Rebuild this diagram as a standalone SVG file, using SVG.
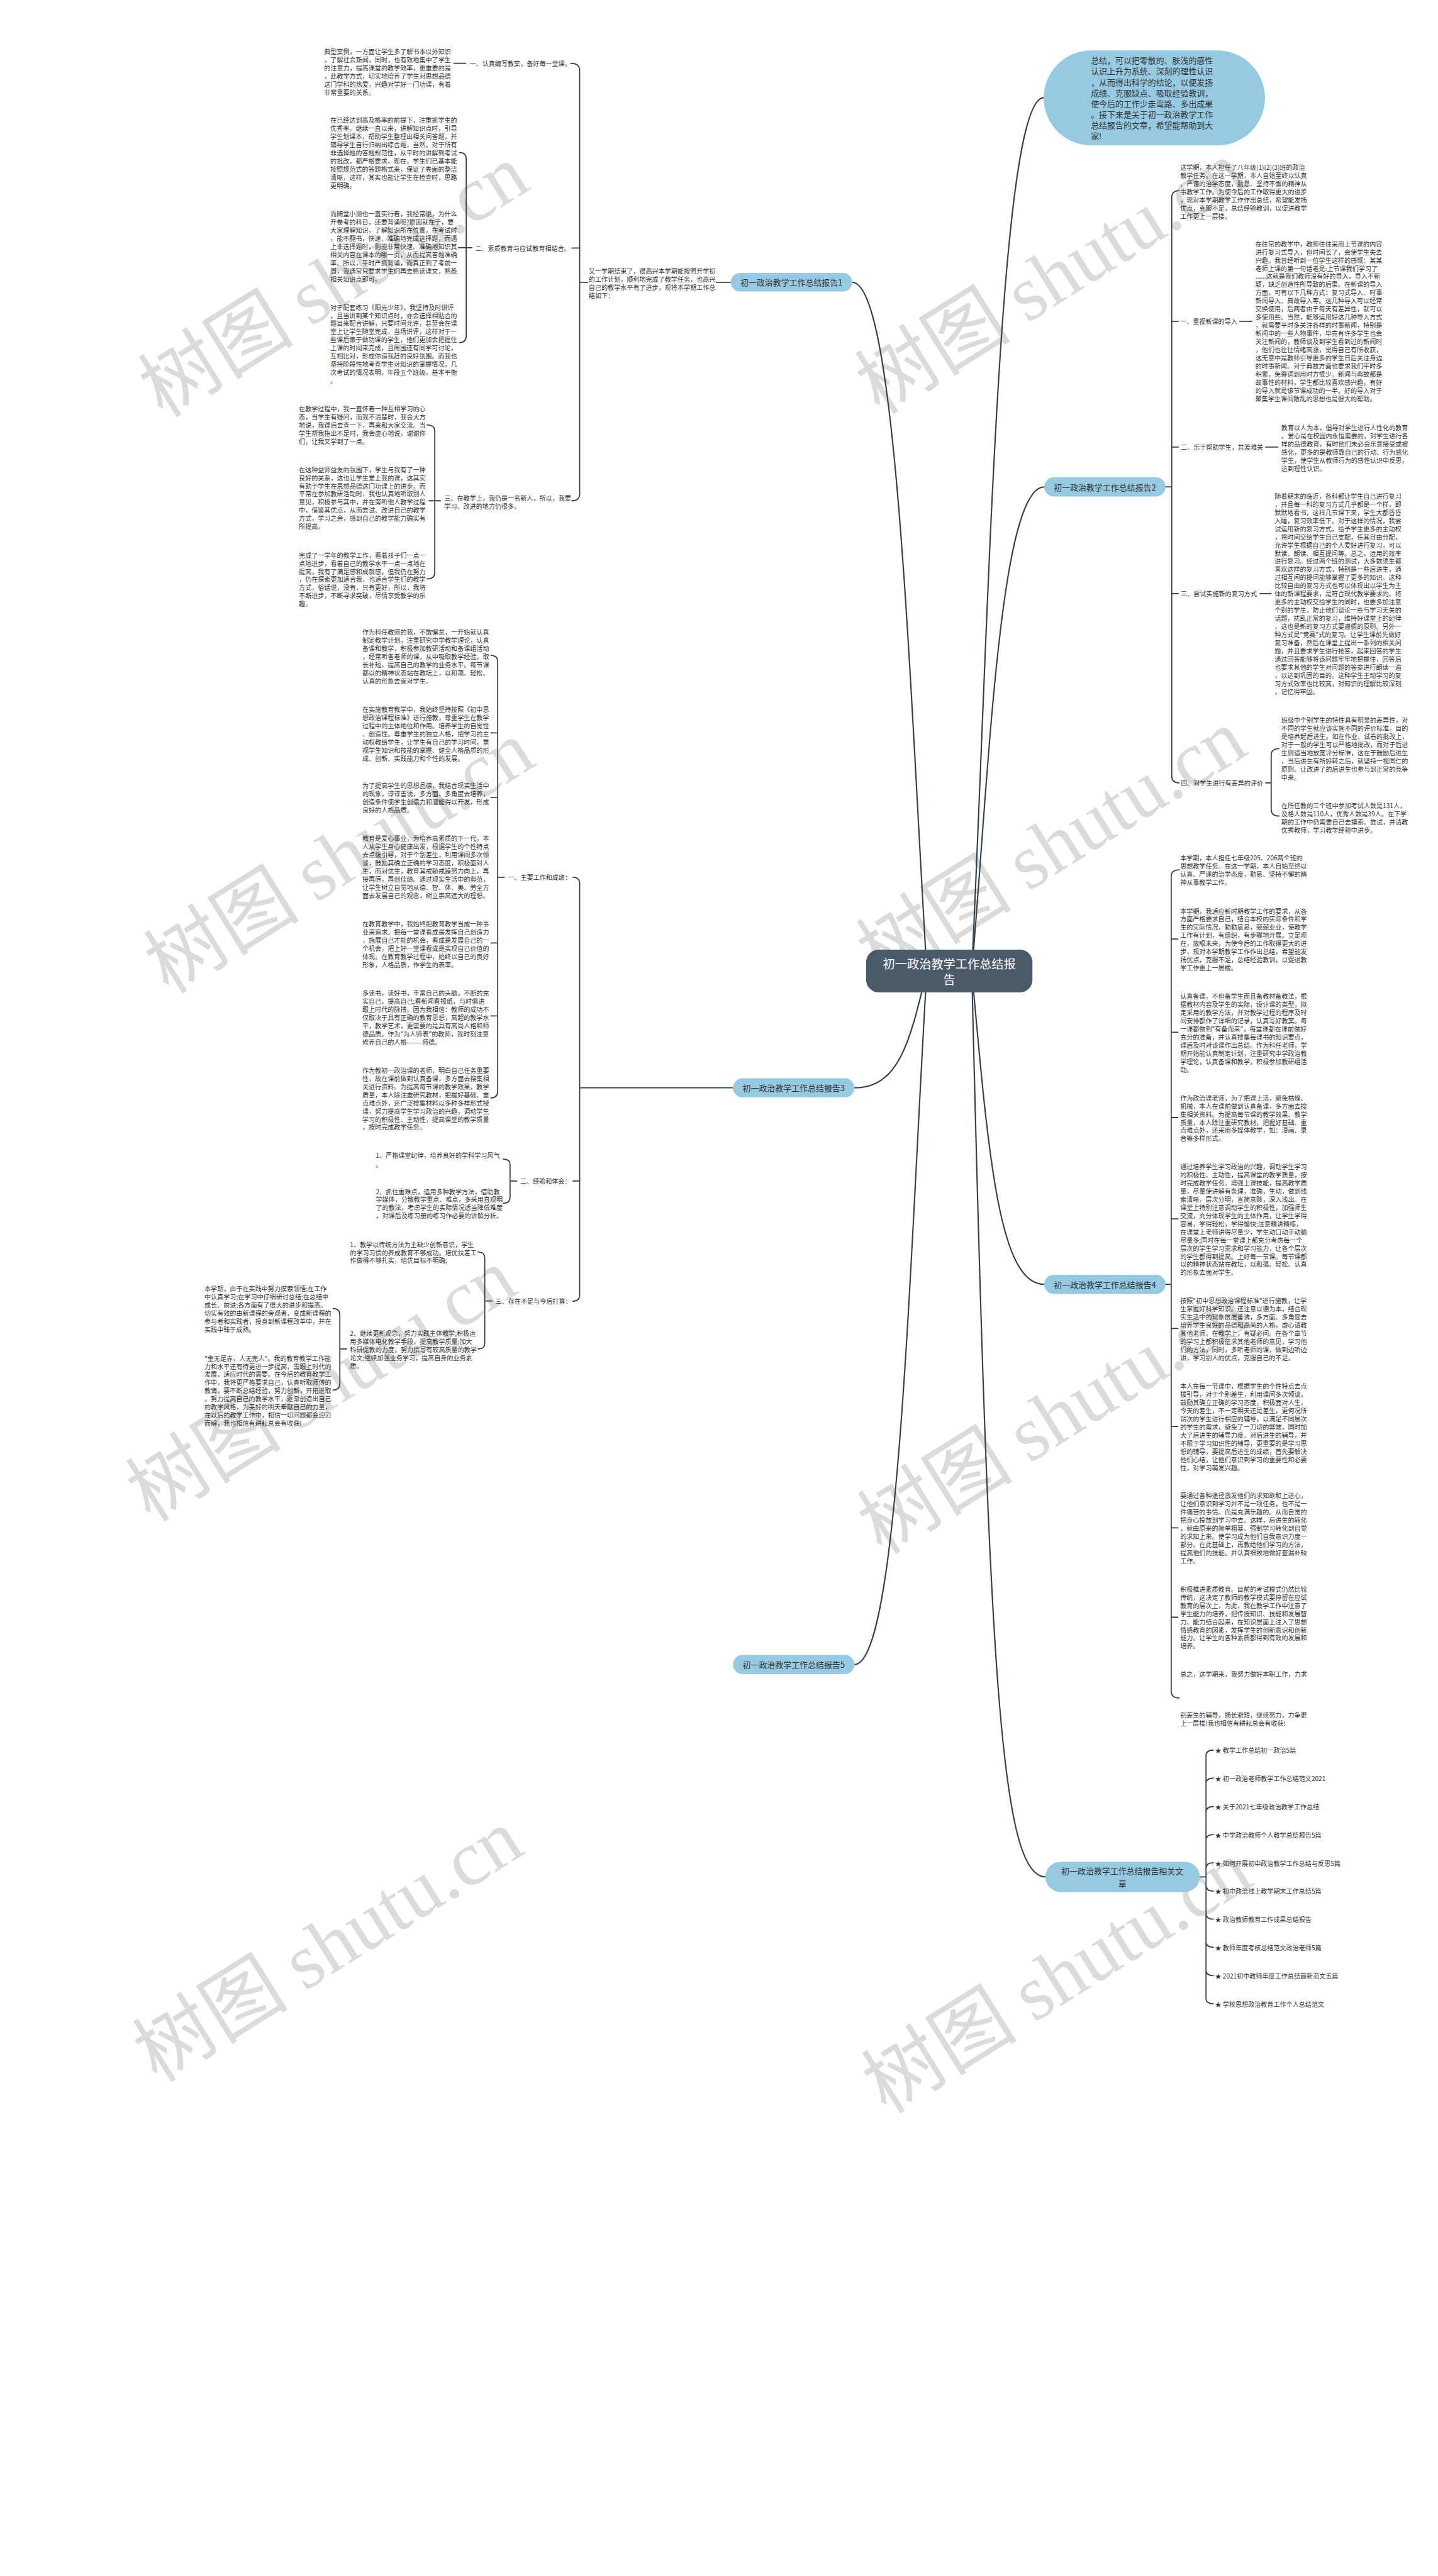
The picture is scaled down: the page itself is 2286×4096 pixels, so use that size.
<svg xmlns="http://www.w3.org/2000/svg" width="2286" height="4096" viewBox="0 0 2286 4096">
<style>
.b{font-family:"Noto Sans CJK SC","Noto Sans",sans-serif;font-size:11.3px;fill:#333;dominant-baseline:central}
.p{font-family:"Noto Sans CJK SC","Noto Sans",sans-serif;font-size:14.5px;fill:#333;dominant-baseline:central;text-anchor:middle}
.t{font-family:"Noto Sans CJK SC","Noto Sans",sans-serif;font-size:14.5px;fill:#333;dominant-baseline:central}
.c{font-family:"Noto Sans CJK SC","Noto Sans",sans-serif;font-size:21.5px;fill:#fff;dominant-baseline:central;text-anchor:middle}
.k{fill:none;stroke:#34414d;stroke-width:2;stroke-linecap:round}
.m{fill:none;stroke:#34414d;stroke-width:2.4}
.pill{fill:#96c9e2}
.w{font-family:"Noto Sans CJK SC",sans-serif;font-size:139px;fill:#cfcfcf;fill-opacity:0.75}
</style>
<rect width="2286" height="4096" fill="#fff"/>
<g transform="scale(0.89297)">
<g id="watermarks">
<text class="w" transform="translate(290,746) rotate(-32)">树图 <tspan font-family="Liberation Serif">shutu.cn</tspan></text>
<text class="w" transform="translate(1566,740) rotate(-32)">树图 <tspan font-family="Liberation Serif">shutu.cn</tspan></text>
<text class="w" transform="translate(300,1772) rotate(-32)">树图 <tspan font-family="Liberation Serif">shutu.cn</tspan></text>
<text class="w" transform="translate(1568,1752) rotate(-32)">树图 <tspan font-family="Liberation Serif">shutu.cn</tspan></text>
<text class="w" transform="translate(268,2712) rotate(-32)">树图 <tspan font-family="Liberation Serif">shutu.cn</tspan></text>
<text class="w" transform="translate(1570,2770) rotate(-32)">树图 <tspan font-family="Liberation Serif">shutu.cn</tspan></text>
<text class="w" transform="translate(280,3710) rotate(-32)">树图 <tspan font-family="Liberation Serif">shutu.cn</tspan></text>
<text class="w" transform="translate(1578,3766) rotate(-32)">树图 <tspan font-family="Liberation Serif">shutu.cn</tspan></text>
</g>
<g id="connectors">
<path class="m" d="M1517 502.5 C1597 502.5 1620 1240 1650 1729"/>
<path class="m" d="M1521 1937 C1601 1937 1620 1854 1650 1729"/>
<path class="m" d="M1521 2964 C1601 2964 1620 2223 1650 1729"/>
<path class="m" d="M1858 174 C1778 174 1760 1107 1730 1729"/>
<path class="m" d="M1859 867 C1779 867 1760 1384 1730 1729"/>
<path class="m" d="M1859 2287 C1779 2287 1760 2064 1730 1729"/>
<path class="m" d="M1861 3342 C1781 3342 1760 2974 1730 1729"/>
<path class="k" d="M1275 502.7H1301"/>
<path class="k" d="M1016 112.7Q1032 112.7 1032 126V879Q1032 891.7 1018 891.7M1018 441.7H1032M1032 502.7H1046"/>
<path class="k" d="M808 112.7H829"/>
<path class="k" d="M818 271.7Q830 271.7 830 283V598Q830 610 818 610M816 441H840"/>
<path class="k" d="M760 756.7Q774 756.7 774 768V1019Q774 1030.7 760 1030.7M764 891.7H784"/>
<path class="k" d="M2075 867H2086M2099 339.4Q2086 339.4 2086 352V1382Q2086 1394 2099 1394M2086 572H2098M2086 796H2098M2086 1057H2098"/>
<path class="k" d="M2207 572H2229M2253 796H2275M2243 1057H2263"/>
<path class="k" d="M2253 1394H2263M2277 1333Q2263 1333 2263 1345V1441Q2263 1453 2277 1453"/>
<path class="k" d="M2075 2287H2085M2099 1549Q2085 1549 2085 1561V3011Q2085 3023.5 2099 3023.5M2085 1672H2097M2085 1838H2097M2085 1990H2097M2085 2170.5H2097M2085 2365.5H2097M2085 2540H2097M2085 2720.6H2097M2085 2879.7H2097"/>
<path class="k" d="M2136 3342H2147M2147 3342V3126Q2147 3116.3 2160 3116.3M2147 3342V3176Q2147 3166.3 2160 3166.3M2147 3342V3227Q2147 3216.8 2160 3216.8M2147 3342V3277Q2147 3266.8 2160 3266.8M2147 3342V3327Q2147 3316.8 2160 3316.8M2147 3342V3357Q2147 3367.3 2160 3367.3M2147 3342V3407Q2147 3417.3 2160 3417.3M2147 3342V3457Q2147 3467.3 2160 3467.3M2147 3342V3508Q2147 3517.9 2160 3517.9M2147 3342V3558Q2147 3567.9 2160 3567.9"/>
<path class="k" d="M1020 1562Q1032 1562 1032 1574V2305Q1032 2317 1020 2317M1020 2103H1032M1032 1937H1305"/>
<path class="k" d="M874 1167Q886 1167 886 1179V1943Q886 1955 874 1955M874 1305H886M874 1419.8H886M874 1679H886M874 1809H886M886 1562H898"/>
<path class="k" d="M896 2064Q908 2064 908 2074V2132Q908 2142.7 896 2142.7M908 2103H920"/>
<path class="k" d="M851 2229.3Q863 2229.3 863 2240V2392Q863 2402 851 2402M863 2316.5H876"/>
<path class="k" d="M593 2330Q605 2330 605 2342V2463Q605 2475 593 2475M605 2402H617"/>
</g>
<g id="center">
<rect x="1542" y="1691" width="296" height="76" rx="22" fill="#4b5a69"/>
<text class="c" x="1690" y="1716">初一政治教学工作总结报</text>
<text class="c" x="1690" y="1744">告</text>
</g>
<g id="topnode">
<rect x="1858" y="90" width="394" height="169" rx="84.5" class="pill"/>
<text class="t" x="1942" y="106.7"><tspan x="1942">总结，可以把零散的、肤浅的感性</tspan><tspan x="1942" dy="19.2">认识上升为系统、深刻的理性认识</tspan><tspan x="1942" dy="19.2">，从而得出科学的结论，以便发扬</tspan><tspan x="1942" dy="19.2">成绩、克服缺点、吸取经验教训，</tspan><tspan x="1942" dy="19.2">使今后的工作少走弯路、多出成果</tspan><tspan x="1942" dy="19.2">。接下来是关于初一政治教学工作</tspan><tspan x="1942" dy="19.2">总结报告的文章，希望能帮助到大</tspan><tspan x="1942" dy="19.2">家!</tspan></text>
</g>
<g id="branch1">
<rect x="1301" y="486" width="216" height="33" rx="16.5" class="pill"/>
<text class="p" x="1409" y="502.5">初一政治教学工作总结报告1</text>
<text class="b" x="1048" y="481.7"><tspan x="1048">又一学期结束了，很高兴本学期能按照开学初</tspan><tspan x="1048" dy="14.5">的工作计划，顺利地完成了教学任务，也高兴</tspan><tspan x="1048" dy="14.5">自己的教学水平有了进步，现将本学期工作总</tspan><tspan x="1048" dy="14.5">结如下：</tspan></text>
<text class="b" x="836" y="112.7">一、认真编写教案，备好每一堂课。</text>
<text class="b" x="846" y="441.7">二、素质教育与应试教育相结合。</text>
<text class="b" x="791" y="886"><tspan x="791">三、在教学上，我仍是一名新人，所以，我要</tspan><tspan x="791" dy="14.5">学习、改进的地方仍很多。</tspan></text>
<text class="b" x="577" y="91"><tspan x="577">典型案例，一方面让学生多了解书本以外知识</tspan><tspan x="577" dy="14.5">，了解社会新闻，同时，也有效地集中了学生</tspan><tspan x="577" dy="14.5">的注意力，提高课堂的教学效率，更重要的是</tspan><tspan x="577" dy="14.5">，此教学方式，切实地培养了学生对思想品德</tspan><tspan x="577" dy="14.5">这门学科的热爱，兴趣对学好一门功课，有着</tspan><tspan x="577" dy="14.5">非常重要的关系。</tspan></text>
<text class="b" x="588" y="213.3"><tspan x="588">在已经达到高及格率的前提下，注重抓学生的</tspan><tspan x="588" dy="14.5">优秀率。继续一直以来，讲解知识点时，引导</tspan><tspan x="588" dy="14.5">学生划课本，帮助学生整理出相关问答题，并</tspan><tspan x="588" dy="14.5">辅导学生自行归纳出综合题，当然，对于所有</tspan><tspan x="588" dy="14.5">非选择题的答题规范性，从平时的讲解到考试</tspan><tspan x="588" dy="14.5">的批改，都严格要求，现在，学生们已基本能</tspan><tspan x="588" dy="14.5">按照规范式的答题格式来，保证了卷面的整洁</tspan><tspan x="588" dy="14.5">清晰，这样，其实也能让学生在检查时，思路</tspan><tspan x="588" dy="14.5">更明确。</tspan></text>
<text class="b" x="588" y="380"><tspan x="588">而随堂小测也一直实行着，我经常说，为什么</tspan><tspan x="588" dy="14.5">开卷考的科目，还要背诵呢?原因就在于，要</tspan><tspan x="588" dy="14.5">大家理解知识，了解知识所在位置，在考试时</tspan><tspan x="588" dy="14.5">，能不翻书，快速、准确地完成选择题，而遇</tspan><tspan x="588" dy="14.5">上非选择题时，则能非常快速、准确地知识其</tspan><tspan x="588" dy="14.5">相关内容在课本的哪一页，从而提高答题准确</tspan><tspan x="588" dy="14.5">率。所以，平时严抓背诵，而真正到了考前一</tspan><tspan x="588" dy="14.5">周，我通常只要求学生们再去熟读课文，熟悉</tspan><tspan x="588" dy="14.5">相关知识点即可。</tspan></text>
<text class="b" x="588" y="546"><tspan x="588">对于配套练习《阳光少年》，我坚持及时讲评</tspan><tspan x="588" dy="14.5">，且当讲到某个知识点时，亦会选择相贴合的</tspan><tspan x="588" dy="14.5">题目来配合讲解，只要时间允许，甚至会在课</tspan><tspan x="588" dy="14.5">堂上让学生随堂完成，当场讲评，这样对于一</tspan><tspan x="588" dy="14.5">些课后懒于做功课的学生，他们更加会把握住</tspan><tspan x="588" dy="14.5">上课的时间来完成，且周围还有同学可讨论，</tspan><tspan x="588" dy="14.5">互相比对，形成你追我赶的良好氛围。而我也</tspan><tspan x="588" dy="14.5">坚持阶段性地考查学生对知识的掌握情况，几</tspan><tspan x="588" dy="14.5">次考试的情况表明，年段五个班级，基本平衡</tspan><tspan x="588" dy="14.5">。</tspan></text>
<text class="b" x="532" y="726.7"><tspan x="532">在教学过程中，我一直怀着一种互相学习的心</tspan><tspan x="532" dy="14.5">态，当学生有疑问，而我不清楚时，我会大方</tspan><tspan x="532" dy="14.5">地说，我课后去查一下，再来和大家交流。当</tspan><tspan x="532" dy="14.5">学生帮我指出不足时，我会虚心地说，谢谢你</tspan><tspan x="532" dy="14.5">们，让我又学到了一点。</tspan></text>
<text class="b" x="532" y="835"><tspan x="532">在这种益师益友的氛围下，学生与我有了一种</tspan><tspan x="532" dy="14.5">良好的关系，这也让学生爱上我的课，这其实</tspan><tspan x="532" dy="14.5">有助于学生在思想品德这门功课上的进步。而</tspan><tspan x="532" dy="14.5">平常在参加教研活动时，我也认真地听取别人</tspan><tspan x="532" dy="14.5">意见，积极参与其中，并在旁听他人教学过程</tspan><tspan x="532" dy="14.5">中，借鉴其优点，从而尝试、改进自己的教学</tspan><tspan x="532" dy="14.5">方式，学习之余，感到自己的教学能力确实有</tspan><tspan x="532" dy="14.5">所提高。</tspan></text>
<text class="b" x="532" y="987.3"><tspan x="532">完成了一学年的教学工作，看着孩子们一点一</tspan><tspan x="532" dy="14.5">点地进步，看着自己的教学水平一点一点地在</tspan><tspan x="532" dy="14.5">提高，我有了满足感和成就感，但我仍在努力</tspan><tspan x="532" dy="14.5">，仍在探索更加适合我，也适合学生们的教学</tspan><tspan x="532" dy="14.5">方式，俗话说，没有，只有更好，所以，我将</tspan><tspan x="532" dy="14.5">不断进步，不断寻求突破，尽情享受教学的乐</tspan><tspan x="532" dy="14.5">趣。</tspan></text>
</g>
<g id="branch2">
<rect x="1859" y="850" width="216" height="34" rx="17" class="pill"/>
<text class="p" x="1967" y="867">初一政治教学工作总结报告2</text>
<text class="b" x="2101" y="297.3"><tspan x="2101">这学期，本人担任了八年级(1)(2)(3)班的政治</tspan><tspan x="2101" dy="14.5">教学任务。在这一学期，本人自始至终以认真</tspan><tspan x="2101" dy="14.5">、严谨的治学态度，勤恳、坚持不懈的精神从</tspan><tspan x="2101" dy="14.5">事教学工作。为使今后的工作取得更大的进步</tspan><tspan x="2101" dy="14.5">，现对本学期教学工作作出总结，希望能发扬</tspan><tspan x="2101" dy="14.5">优点，克服不足，总结经验教训，以促进教学</tspan><tspan x="2101" dy="14.5">工作更上一层楼。</tspan></text>
<text class="b" x="2101" y="572">一、重视新课的导入</text>
<text class="b" x="2235" y="433"><tspan x="2235">在往常的教学中，教师往往采用上节课的内容</tspan><tspan x="2235" dy="14.5">进行复习式导入，但时间长了，会使学生失去</tspan><tspan x="2235" dy="14.5">兴趣。我曾经听到一位学生这样的感慨：某某</tspan><tspan x="2235" dy="14.5">老师上课的第一句话老是:上节课我们学习了</tspan><tspan x="2235" dy="14.5">......这就是我们教师没有好的导入，导入不新</tspan><tspan x="2235" dy="14.5">颖，缺乏创造性所导致的后果。在新课的导入</tspan><tspan x="2235" dy="14.5">方面，可有以下几种方式：复习式导入、时事</tspan><tspan x="2235" dy="14.5">新闻导入、典故导入等。这几种导入可以经常</tspan><tspan x="2235" dy="14.5">交换使用，后两者由于每天有差异性，就可以</tspan><tspan x="2235" dy="14.5">多使用些。当然，能够运用好这几种导入方式</tspan><tspan x="2235" dy="14.5">，就需要平时多关注各样的时事新闻，特别是</tspan><tspan x="2235" dy="14.5">新闻中的一些人物事件，毕竟有许多学生也会</tspan><tspan x="2235" dy="14.5">关注新闻的，教师谈及到学生看到过的新闻时</tspan><tspan x="2235" dy="14.5">，他们也往往情绪高涨，觉得自己有所收获，</tspan><tspan x="2235" dy="14.5">这无意中是教师引导更多的学生日后关注身边</tspan><tspan x="2235" dy="14.5">的时事新闻。对于典故方面也要求我们平时多</tspan><tspan x="2235" dy="14.5">积累，免得词到用时方恨少。新闻与典故都是</tspan><tspan x="2235" dy="14.5">故事性的材料，学生都比较喜欢感兴趣，有好</tspan><tspan x="2235" dy="14.5">的导入就是该节课成功的一半。好的导入对于</tspan><tspan x="2235" dy="14.5">聚集学生课间散乱的思想也是很大的帮助。</tspan></text>
<text class="b" x="2102" y="796">二、乐于帮助学生，共渡难关</text>
<text class="b" x="2281" y="760.5"><tspan x="2281">教育以人为本，倡导对学生进行人性化的教育</tspan><tspan x="2281" dy="14.5">。爱心是在校园内永恒需要的。对学生进行各</tspan><tspan x="2281" dy="14.5">样的品德教育，有时他们未必会乐意接受或被</tspan><tspan x="2281" dy="14.5">感化，更多的是教师靠自己的行动、行为感化</tspan><tspan x="2281" dy="14.5">学生，使学生从教师行为的感性认识中反思，</tspan><tspan x="2281" dy="14.5">达到理性认识。</tspan></text>
<text class="b" x="2102" y="1057">三、尝试实施新的复习方式</text>
<text class="b" x="2269" y="882.3"><tspan x="2269">随着期末的临近，各科都让学生自己进行复习</tspan><tspan x="2269" dy="14.5">，并且每一科的复习方式几乎都是一个样，即</tspan><tspan x="2269" dy="14.5">默默地看书，这样几节课下来，学生大都昏昏</tspan><tspan x="2269" dy="14.5">入睡，复习效率低下。对于这样的情况，我尝</tspan><tspan x="2269" dy="14.5">试运用新的复习方式，给予学生更多的主动权</tspan><tspan x="2269" dy="14.5">，将时间交给学生自己支配，任其自由分配，</tspan><tspan x="2269" dy="14.5">允许学生根据自己的个人爱好进行复习，可以</tspan><tspan x="2269" dy="14.5">默读、朗读、相互提问等。总之，运用的效率</tspan><tspan x="2269" dy="14.5">进行复习。经过两个班的测试，大多数须生都</tspan><tspan x="2269" dy="14.5">喜欢这样的复习方式，特别是一些后进生，通</tspan><tspan x="2269" dy="14.5">过相互间的提问能够掌握了更多的知识。这种</tspan><tspan x="2269" dy="14.5">比较自由的复习方式也可以体现出以学生为主</tspan><tspan x="2269" dy="14.5">体的新课程要求，是符合现代教学要求的。将</tspan><tspan x="2269" dy="14.5">更多的主动权交给学生的同时，也要多加注意</tspan><tspan x="2269" dy="14.5">个别的学生，防止他们谈论一些与学习无关的</tspan><tspan x="2269" dy="14.5">话题，扰乱正常的复习，维持好课堂上的纪律</tspan><tspan x="2269" dy="14.5">，这也是新的复习方式要遵循的原则。另外一</tspan><tspan x="2269" dy="14.5">种方式是"竞赛"式的复习。让学生课前先做好</tspan><tspan x="2269" dy="14.5">复习准备，然后在课堂上提出一系列的相关问</tspan><tspan x="2269" dy="14.5">题，并且要求学生进行抢答，起来回答的学生</tspan><tspan x="2269" dy="14.5">通过回答能够将该问题牢牢地把握住，回答后</tspan><tspan x="2269" dy="14.5">也要求其他的学生对问题的答案进行朗读一遍</tspan><tspan x="2269" dy="14.5">，以达到巩固的目的。这种学生主动学习的复</tspan><tspan x="2269" dy="14.5">习方式效率也比较高，对知识的理解比较深刻</tspan><tspan x="2269" dy="14.5">，记忆得牢固。</tspan></text>
<text class="b" x="2102" y="1394">四、对学生进行有差异的评价</text>
<text class="b" x="2281" y="1281.2"><tspan x="2281">班级中个别学生的特性具有明显的差异性，对</tspan><tspan x="2281" dy="14.5">不同的学生就应该实施不同的评价标准，目的</tspan><tspan x="2281" dy="14.5">是培养起后进生。如在作业、试卷的批改上，</tspan><tspan x="2281" dy="14.5">对于一般的学生可以严格地批改，而对于后进</tspan><tspan x="2281" dy="14.5">生则适当地放宽评分标准，这在于鼓励后进生</tspan><tspan x="2281" dy="14.5">，当后进生有所好转之后，就坚持一视同仁的</tspan><tspan x="2281" dy="14.5">原则。让改进了的后进生也参与到正常的竞争</tspan><tspan x="2281" dy="14.5">中来。</tspan></text>
<text class="b" x="2281" y="1433.5"><tspan x="2281">在所任教的三个班中参加考试人数是131人，</tspan><tspan x="2281" dy="14.5">及格人数是110人，优秀人数是39人。在下学</tspan><tspan x="2281" dy="14.5">期的工作中仍需要自己去摸索、尝试，并请教</tspan><tspan x="2281" dy="14.5">优秀教师，学习教学经验中进步。</tspan></text>
</g>
<g id="branch4">
<rect x="1859" y="2270" width="216" height="34" rx="17" class="pill"/>
<text class="p" x="1967" y="2287">初一政治教学工作总结报告4</text>
<text class="b" x="2101" y="1526.9"><tspan x="2101">本学期，本人担任七年级205、206两个班的</tspan><tspan x="2101" dy="14.5">思想教学任务。在这一学期，本人自始至终以</tspan><tspan x="2101" dy="14.5">认真、严谨的治学态度，勤恳、坚持不懈的精</tspan><tspan x="2101" dy="14.5">神从事教学工作。</tspan></text>
<text class="b" x="2101" y="1621"><tspan x="2101">本学期，我适应新时期教学工作的要求，从各</tspan><tspan x="2101" dy="14.5">方面严格要求自己，结合本校的实际条件和学</tspan><tspan x="2101" dy="14.5">生的实际情况，勤勤恳恳，兢兢业业，使教学</tspan><tspan x="2101" dy="14.5">工作有计划，有组织，有步骤地开展。立足现</tspan><tspan x="2101" dy="14.5">在，放眼未来，为使今后的工作取得更大的进</tspan><tspan x="2101" dy="14.5">步，现对本学期教学工作作出总结，希望能发</tspan><tspan x="2101" dy="14.5">扬优点，克服不足，总结经验教训，以促进教</tspan><tspan x="2101" dy="14.5">学工作更上一层楼。</tspan></text>
<text class="b" x="2101" y="1773"><tspan x="2101">认真备课。不但备学生而且备教材备教法，根</tspan><tspan x="2101" dy="14.5">据教材内容及学生的实际，设计课的类型，拟</tspan><tspan x="2101" dy="14.5">定采用的教学方法，并对教学过程的程序及时</tspan><tspan x="2101" dy="14.5">间安排都作了详细的记录，认真写好教案。每</tspan><tspan x="2101" dy="14.5">一课都做到"有备而来"，每堂课都在课前做好</tspan><tspan x="2101" dy="14.5">充分的准备，并认真搜集每课书的知识要点，</tspan><tspan x="2101" dy="14.5">课后及时对该课作出总结。作为科任老师，学</tspan><tspan x="2101" dy="14.5">期开始能认真制定计划，注重研究中学政治教</tspan><tspan x="2101" dy="14.5">学理论，认真备课和教学，积极参加教研组活</tspan><tspan x="2101" dy="14.5">动。</tspan></text>
<text class="b" x="2101" y="1953.8"><tspan x="2101">作为政治课老师，为了把课上活，避免枯燥、</tspan><tspan x="2101" dy="14.5">机械，本人在课前做到认真备课，多方面去搜</tspan><tspan x="2101" dy="14.5">集相关资料。为提高每节课的教学效果、教学</tspan><tspan x="2101" dy="14.5">质量，本人除注重研究教材，把握好基础、重</tspan><tspan x="2101" dy="14.5">点难点外，还采用多媒体教学，如：漫画、录</tspan><tspan x="2101" dy="14.5">音等多样形式。</tspan></text>
<text class="b" x="2101" y="2076.3"><tspan x="2101">通过培养学生学习政治的兴趣，调动学生学习</tspan><tspan x="2101" dy="14.5">的积极性、主动性，提高课堂的教学质量，按</tspan><tspan x="2101" dy="14.5">时完成教学任务。增强上课技能，提高教学质</tspan><tspan x="2101" dy="14.5">量，尽量使讲解有条理，准确，生动，做到线</tspan><tspan x="2101" dy="14.5">索清晰，层次分明，言简意赅，深入浅出。在</tspan><tspan x="2101" dy="14.5">课堂上特别注意调动学生的积极性，加强师生</tspan><tspan x="2101" dy="14.5">交流，充分体现学生的主体作用，让学生学得</tspan><tspan x="2101" dy="14.5">容易，学得轻松，学得愉快;注意精讲精练，</tspan><tspan x="2101" dy="14.5">在课堂上老师讲得尽量少，学生动口动手动脑</tspan><tspan x="2101" dy="14.5">尽量多;同时在每一堂课上都充分考虑每一个</tspan><tspan x="2101" dy="14.5">层次的学生学习需求和学习能力，让各个层次</tspan><tspan x="2101" dy="14.5">的学生都得到提高。上好每一节课。每节课都</tspan><tspan x="2101" dy="14.5">以的精神状态站在教坛，以和蔼、轻松、认真</tspan><tspan x="2101" dy="14.5">的形象去面对学生。</tspan></text>
<text class="b" x="2101" y="2314.7"><tspan x="2101">按照"初中思想政治课程标准"进行施教，让学</tspan><tspan x="2101" dy="14.5">生掌握好科学知识。还注意以德为本，结合现</tspan><tspan x="2101" dy="14.5">实生活中的现象层层善诱，多方面、多角度去</tspan><tspan x="2101" dy="14.5">培养学生良好的品德和高尚的人格，虚心请教</tspan><tspan x="2101" dy="14.5">其他老师。在教学上，有疑必问。在各个章节</tspan><tspan x="2101" dy="14.5">的学习上都积极征求其他老师的意见，学习他</tspan><tspan x="2101" dy="14.5">们的方法，同时，多听老师的课，做到边听边</tspan><tspan x="2101" dy="14.5">讲，学习别人的优点，克服自己的不足。</tspan></text>
<text class="b" x="2101" y="2467.3"><tspan x="2101">本人在每一节课中，根据学生的个性特点去点</tspan><tspan x="2101" dy="14.5">拨引导，对于个别差生，利用课间多次倾谈，</tspan><tspan x="2101" dy="14.5">鼓励其确立正确的学习态度，积极面对人生，</tspan><tspan x="2101" dy="14.5">今天的差生，不一定明天还是差生，更何况所</tspan><tspan x="2101" dy="14.5">谓次的学生进行相应的辅导，以满足不同层次</tspan><tspan x="2101" dy="14.5">的学生的需求，避免了一刀切的弊端，同时加</tspan><tspan x="2101" dy="14.5">大了后进生的辅导力度。对后进生的辅导，并</tspan><tspan x="2101" dy="14.5">不限于学习知识性的辅导，更重要的是学习思</tspan><tspan x="2101" dy="14.5">想的辅导，要提高后进生的成绩，首先要解决</tspan><tspan x="2101" dy="14.5">他们心结，让他们意识到学习的重要性和必要</tspan><tspan x="2101" dy="14.5">性，对学习萌发兴趣。</tspan></text>
<text class="b" x="2101" y="2662.4"><tspan x="2101">要通过各种途径激发他们的求知欲和上进心，</tspan><tspan x="2101" dy="14.5">让他们意识到学习并不是一项任务，也不是一</tspan><tspan x="2101" dy="14.5">件痛苦的事情。而是充满乐趣的。从而自觉的</tspan><tspan x="2101" dy="14.5">把身心投放到学习中去。这样，后进生的转化</tspan><tspan x="2101" dy="14.5">，就由原来的简单粗暴、强制学习转化到自觉</tspan><tspan x="2101" dy="14.5">的求知上来。使学习成为他们自我意识力度一</tspan><tspan x="2101" dy="14.5">部分。在此基础上，再教给他们学习的方法，</tspan><tspan x="2101" dy="14.5">提高他们的技能。并认真细致地做好查漏补缺</tspan><tspan x="2101" dy="14.5">工作。</tspan></text>
<text class="b" x="2101" y="2828.5"><tspan x="2101">积极推进素质教育。目前的考试模式仍然比较</tspan><tspan x="2101" dy="14.5">传统，这决定了教师的教学模式要停留在应试</tspan><tspan x="2101" dy="14.5">教育的层次上，为此，我在教学工作中注意了</tspan><tspan x="2101" dy="14.5">学生能力的培养，把传授知识、技能和发展智</tspan><tspan x="2101" dy="14.5">力、能力结合起来，在知识层面上注入了思想</tspan><tspan x="2101" dy="14.5">情感教育的因素，发挥学生的创新意识和创新</tspan><tspan x="2101" dy="14.5">能力。让学生的各种素质都得到有效的发展和</tspan><tspan x="2101" dy="14.5">培养。</tspan></text>
<text class="b" x="2101" y="2980"><tspan x="2101">总之，这学期来，我努力做好本职工作，力求</tspan><tspan x="2101" dy="72.5">别差生的辅导，扬长避短，继续努力，力争更</tspan><tspan x="2101" dy="14.5">上一层楼!我也相信有耕耘总会有收获!</tspan></text>
</g>
<g id="branch6">
<rect x="1861" y="3315" width="275" height="54" rx="27" class="pill"/>
<text class="p" x="1998" y="3331">初一政治教学工作总结报告相关文</text>
<text class="p" x="1998" y="3353">章</text>
<text class="b" x="2163" y="3116.3">★ 教学工作总结初一政治5篇</text>
<text class="b" x="2163" y="3166.5">★ 初一政治老师教学工作总结范文2021</text>
<text class="b" x="2163" y="3216.7">★ 关于2021七年级政治教学工作总结</text>
<text class="b" x="2163" y="3266.9">★ 中学政治教师个人教学总结报告5篇</text>
<text class="b" x="2163" y="3317.1">★ 如何开展初中政治教学工作总结与反思5篇</text>
<text class="b" x="2163" y="3367.3">★ 初中政治线上教学期末工作总结5篇</text>
<text class="b" x="2163" y="3417.5">★ 政治教师教育工作成果总结报告</text>
<text class="b" x="2163" y="3467.7">★ 教师年度考核总结范文政治老师5篇</text>
<text class="b" x="2163" y="3517.9">★ 2021初中教师年度工作总结最新范文五篇</text>
<text class="b" x="2163" y="3568.1">★ 学校思想政治教育工作个人总结范文</text>
</g>
<g id="branch3">
<rect x="1305" y="1920" width="216" height="34" rx="17" class="pill"/>
<text class="p" x="1413" y="1937">初一政治教学工作总结报告3</text>
<text class="b" x="904" y="1562">一、主要工作和成绩：</text>
<text class="b" x="926" y="2103">二、经验和体会：</text>
<text class="b" x="882" y="2316.5">三、存在不足与今后打算：</text>
<text class="b" x="645" y="1124.5"><tspan x="645">作为科任教师的我，不敢懈怠，一开始就认真</tspan><tspan x="645" dy="14.5">制定教学计划，注重研究中学教学理论，认真</tspan><tspan x="645" dy="14.5">备课和教学，积极参加教研活动和备课组活动</tspan><tspan x="645" dy="14.5">，经常听各老师的课，从中吸取教学经验，取</tspan><tspan x="645" dy="14.5">长补短，提高自己的教学的业务水平。每节课</tspan><tspan x="645" dy="14.5">都以的精神状态站在教坛上，以和蔼、轻松、</tspan><tspan x="645" dy="14.5">认真的形象去面对学生。</tspan></text>
<text class="b" x="645" y="1262.3"><tspan x="645">在实施教育教学中，我始终坚持按照《初中思</tspan><tspan x="645" dy="14.5">想政治课程标准》进行施教，尊重学生在教学</tspan><tspan x="645" dy="14.5">过程中的主体地位和作用。培养学生的自觉性</tspan><tspan x="645" dy="14.5">、创造性。尊重学生的独立人格，把学习的主</tspan><tspan x="645" dy="14.5">动权教给学生，让学生有自己的学习时间，重</tspan><tspan x="645" dy="14.5">视学生知识和技能的掌握、健全人格品质的形</tspan><tspan x="645" dy="14.5">成、创新、实践能力和个性的发展。</tspan></text>
<text class="b" x="645" y="1397.7"><tspan x="645">为了提高学生的思想品德，我结合现实生活中</tspan><tspan x="645" dy="14.5">的现象，谆谆善诱，多方面、多角度去培养，</tspan><tspan x="645" dy="14.5">创造条件使学生创造力和潜能得以开发，形成</tspan><tspan x="645" dy="14.5">良好的人格品质。</tspan></text>
<text class="b" x="645" y="1491.8"><tspan x="645">教育是爱心事业，为培养高素质的下一代，本</tspan><tspan x="645" dy="14.5">人从学生身心健康出发，根据学生的个性特点</tspan><tspan x="645" dy="14.5">去点拨引导，对于个别差生，利用课间多次倾</tspan><tspan x="645" dy="14.5">谈，鼓励其确立正确的学习态度，积极面对人</tspan><tspan x="645" dy="14.5">生，而对优生，教育其戒骄戒躁努力向上，再</tspan><tspan x="645" dy="14.5">接再厉，再创佳绩。通过现实生活中的典范，</tspan><tspan x="645" dy="14.5">让学生树立自觉地从德、智、体、美、劳全方</tspan><tspan x="645" dy="14.5">面去发展自己的观念，树立崇高远大的理想。</tspan></text>
<text class="b" x="645" y="1643.8"><tspan x="645">在教育教学中，我始终把教育教学当成一种事</tspan><tspan x="645" dy="14.5">业来追求。把每一堂课看成是发挥自己创造力</tspan><tspan x="645" dy="14.5">，施展自己才能的机会，看成是发展自己的一</tspan><tspan x="645" dy="14.5">个机会，把上好一堂课看成是实现自己价值的</tspan><tspan x="645" dy="14.5">体现。在教育教学过程中，始终以自己的良好</tspan><tspan x="645" dy="14.5">形象，人格品质，作学生的表率。</tspan></text>
<text class="b" x="645" y="1767.3"><tspan x="645">多读书，读好书，丰富自己的头脑，不断的充</tspan><tspan x="645" dy="14.5">实自己，提高自己;看新闻看报纸，与时俱进</tspan><tspan x="645" dy="14.5">跟上时代的脉搏。因为我相信：教师的成功不</tspan><tspan x="645" dy="14.5">仅取决于具有正确的教育思想，高超的教学水</tspan><tspan x="645" dy="14.5">平，教学艺术，更需要的是具有高尚人格和师</tspan><tspan x="645" dy="14.5">德品质。作为"为人师表"的教师，我时刻注意</tspan><tspan x="645" dy="14.5">修养自己的人格-------师德。</tspan></text>
<text class="b" x="645" y="1904.7"><tspan x="645">作为教初一政治课的老师，明白自己任务重要</tspan><tspan x="645" dy="14.5">性，故在课前做到认真备课，多方面去搜集相</tspan><tspan x="645" dy="14.5">关进行资料。为提高每节课的教学效果，教学</tspan><tspan x="645" dy="14.5">质量，本人除注重研究教材，把握好基础、重</tspan><tspan x="645" dy="14.5">点难点外，还广泛搜集材料以多种多样形式授</tspan><tspan x="645" dy="14.5">课，努力提高学生学习政治的兴趣，调动学生</tspan><tspan x="645" dy="14.5">学习的积极性、主动性，提高课堂的教学质量</tspan><tspan x="645" dy="14.5">，按时完成教学任务。</tspan></text>
<text class="b" x="669" y="2056"><tspan x="669">1、严格课堂纪律，培养良好的学科学习风气</tspan><tspan x="669" dy="17">。</tspan></text>
<text class="b" x="669" y="2120.5"><tspan x="669">2、抓住重难点，运用多种教学方法，借助教</tspan><tspan x="669" dy="14.5">学媒体，分散教学重点、难点，多采用直观明</tspan><tspan x="669" dy="14.5">了的教法，考虑学生的实际情况适当降低难度</tspan><tspan x="669" dy="14.5">，对课后及练习册的练习作必要的讲解分析。</tspan></text>
<text class="b" x="623" y="2214.6"><tspan x="623">1、教学以传统方法为主缺少创新意识，学生</tspan><tspan x="623" dy="14.5">的学习习惯的养成教育不够成功。培优扶差工</tspan><tspan x="623" dy="14.5">作做得不够扎实，培优目标不明确;</tspan></text>
<text class="b" x="623" y="2373"><tspan x="623">2、继续更新观念，努力实践主体教学;积极运</tspan><tspan x="623" dy="14.5">用多媒体电化教学手段，提高教学质量;加大</tspan><tspan x="623" dy="14.5">科研促教的力度，努力撰写有较高质量的教学</tspan><tspan x="623" dy="14.5">论文;继续加强业务学习，提高自身的业务素</tspan><tspan x="623" dy="14.5">质。</tspan></text>
<text class="b" x="364" y="2294"><tspan x="364">本学期，由于在实践中努力摸索领悟;在工作</tspan><tspan x="364" dy="14.5">中认真学习;在学习中仔细研讨总结;在总结中</tspan><tspan x="364" dy="14.5">成长、前进;各方面有了很大的进步和提高。</tspan><tspan x="364" dy="14.5">切实有效的由新课程的旁观者，变成新课程的</tspan><tspan x="364" dy="14.5">参与者和实践者，投身到新课程改革中，并在</tspan><tspan x="364" dy="14.5">实践中臻于成熟。</tspan></text>
<text class="b" x="364" y="2417.3"><tspan x="364">"金无足赤，人无完人"。我的教育教学工作能</tspan><tspan x="364" dy="14.5">力和水平还有待更进一步提高，需跟上时代的</tspan><tspan x="364" dy="14.5">发展，适应时代的需要。在今后的教育教学工</tspan><tspan x="364" dy="14.5">作中，我将更严格要求自己，认真听取师傅的</tspan><tspan x="364" dy="14.5">教诲，要不断总结经验，努力创新，开拓进取</tspan><tspan x="364" dy="14.5">，努力提高自己的教学水平，逐渐创造出自己</tspan><tspan x="364" dy="14.5">的教学风格，为美好的明天奉献自己的力量，</tspan><tspan x="364" dy="14.5">在以后的教学工作中，相信一切问题都会迎刃</tspan><tspan x="364" dy="14.5">而解，我也相信有耕耘总会有收获!</tspan></text>
</g>
<g id="branch5">
<rect x="1305" y="2947" width="216" height="34" rx="17" class="pill"/>
<text class="p" x="1413" y="2964">初一政治教学工作总结报告5</text>
</g>
</g>
</svg>
